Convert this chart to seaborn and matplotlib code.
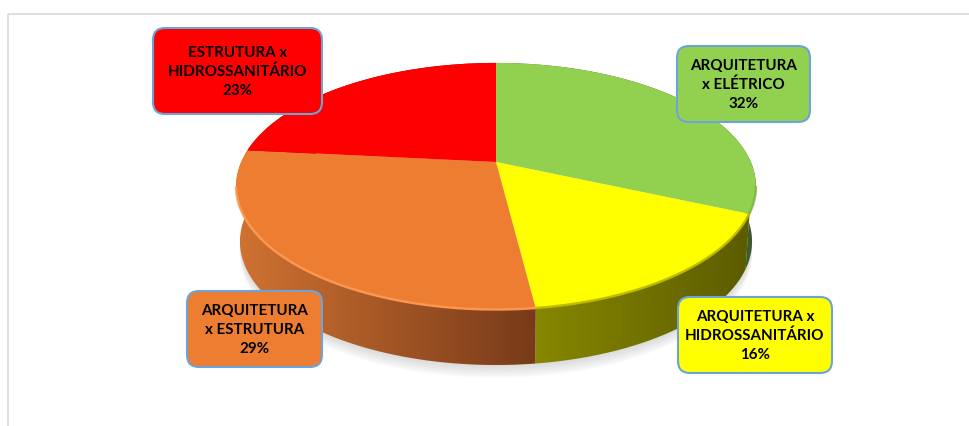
import numpy as np
import matplotlib
matplotlib.use('Agg')
import matplotlib.pyplot as plt
import seaborn as sns
from matplotlib.patches import FancyBboxPatch, Polygon
from matplotlib.transforms import Transform

# dados
categorias = ['ARQUITETURA\nx ELÉTRICO', 'ARQUITETURA x\nHIDROSSANITÁRIO',
              'ARQUITETURA\nx ESTRUTURA', 'ESTRUTURA x\nHIDROSSANITÁRIO']
valores = [31.6, 16.4, 28.6, 23.4]  # rotulos arredondados

cores = ['#92d050', '#ffff00', '#ed7d31', '#ff0000']
lado_ini = [(85, 120, 55), (135, 135, 0), (208, 115, 50), (170, 0, 0)]
lado_fim = [(60, 90, 45), (92, 92, 0), (120, 58, 25), (170, 0, 0)]
borda_cor = ['#7fb548', '#b4b400', '#ff9a55', '#ff0000']
caixas = [(677, 46, 810, 122), (678, 297, 832, 373), (187, 291, 322, 367), (153, 28, 322, 114)]

sns.set_theme(style='white')
plt.rcParams['font.family'] = ['Lato', 'DejaVu Sans']

# perspectiva do disco (centro do pie em 496,162)
CX, CY, A, B, K = 496, 162, 118.7, 254.8, 0.198
ALT, ESC = 55, 0.985


def persp(xy):
    xy = np.asarray(xy, dtype=float)
    d = 1 + K * xy[..., 1]
    return np.stack([CX + B * xy[..., 0] / d, CY - A * xy[..., 1] / d], axis=-1)


class Persp(Transform):
    input_dims = output_dims = 2

    def transform_non_affine(self, values):
        return persp(values)


def base(p):
    # contorno de baixo: um pouco mais estreito e deslocado
    return np.column_stack([CX + (p[:, 0] - CX) * ESC, p[:, 1] + ALT])


fig = plt.figure(figsize=(9.69, 4.26), dpi=100)
ax = fig.add_axes([0, 0, 1, 1])
wedges, _ = ax.pie(valores, colors=sns.color_palette(cores), startangle=90, counterclock=False)

t = np.radians(np.linspace(0, 360, 200))
contorno = base(persp(np.column_stack([np.cos(t), np.sin(t)])))
# sombra
for i in range(1, 9):
    ax.add_patch(Polygon(contorno + [0, i * 1.6], fc='#808080', ec='none', alpha=0.035, zorder=1))

for i, w in enumerate(wedges):
    w.set_transform(Persp() + ax.transData)
    w.set_zorder(3)
    w.set_edgecolor('none')
    t = np.radians(np.linspace(w.theta1, w.theta2, 120))
    topo = persp(np.column_stack([np.cos(t), np.sin(t)]))
    fundo = base(topo)
    pts = np.vstack([topo, fundo[::-1]])
    # parede lateral com degrade
    x0, x1 = pts[:, 0].min(), pts[:, 0].max()
    y0, y1 = pts[:, 1].min(), pts[:, 1].max()
    grad = np.linspace(lado_ini[i], lado_fim[i], 200)[None, :, :] / 255
    clip = Polygon(pts, fc='none', ec='none', transform=ax.transData)
    ax.add_patch(clip)
    im = ax.imshow(grad, extent=[x0, x1, y1, y0], aspect='auto', zorder=2)
    im.set_clip_path(clip)
    # brilho da borda da frente
    frente = topo[topo[:, 1] > 185]
    if len(frente):
        ax.plot(frente[:, 0], frente[:, 1] - 0.5, color=borda_cor[i], lw=1.8,
                alpha=0.85, zorder=4, solid_capstyle='butt')

for nome, val, cor, (x0, y0, x1, y1) in zip(categorias, valores, cores, caixas):
    ax.add_patch(FancyBboxPatch((x0 + 12, y0 + 12), x1 - x0 - 24, y1 - y0 - 24,
                                boxstyle='round,pad=12,rounding_size=12', fc=cor,
                                ec='#6ea3d8', lw=1.5, zorder=5))
    ax.text((x0 + x1) / 2, (y0 + y1) / 2 + 1, f'{nome}\n{round(val)}%', ha='center', va='center',
            fontsize=10.9, fontweight='bold', color='black', linespacing=1.45, zorder=6)

# moldura cinza
ax.plot([8, 8, 969], [426, 13.5, 13.5], color='#dcdcdc', lw=1.3, zorder=0)

ax.set_aspect('auto')
ax.set_xlim(0, 969)
ax.set_ylim(426, 0)
ax.axis('off')
fig.savefig('out.png', dpi=100, facecolor='white')
